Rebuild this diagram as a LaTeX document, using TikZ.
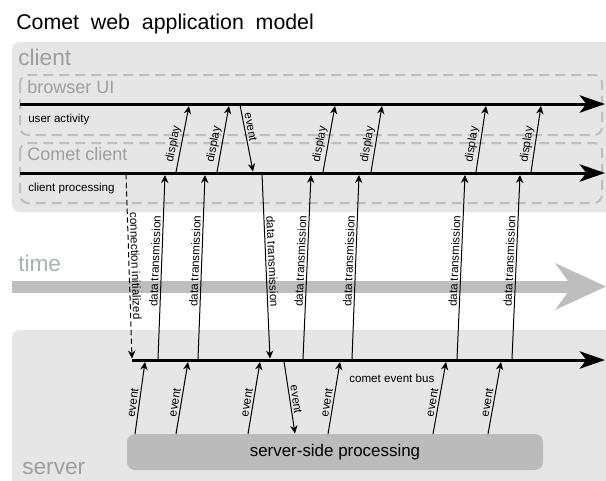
\documentclass[tikz,border=0pt]{standalone}
\usepackage{fontspec}
\setmainfont{Liberation Sans}
\newfontfamily\titlefont[WordSpace=2]{Liberation Sans}
\usetikzlibrary{arrows.meta}

\definecolor{panel}{HTML}{E6E6E6}
\definecolor{lane}{HTML}{BEBEBE}
\definecolor{procfill}{HTML}{BBBBBB}
\definecolor{laneText}{HTML}{9E9E9E}
\definecolor{timeText}{HTML}{AAB2B6}

\tikzset{
  panelbox/.style={fill=panel, draw=none, rounded corners=6pt},
  lanebox/.style={draw=lane, line width=1.5pt, dash pattern=on 7.5pt off 4.5pt, rounded corners=6pt},
  timeline/.style={line width=2.25pt, -{Stealth[length=19pt,width=13pt,inset=5pt]}},
  msg/.style={line width=0.75pt, -{Stealth[length=6pt,width=5.5pt,inset=2pt]}},
  lbl/.style={font=\fontsize{8.7}{10}\selectfont, inner sep=1.5pt},
  lanetitle/.style={font=\fontsize{13.5}{15}\selectfont, text=laneText, anchor=base west, inner sep=0pt},
  bigtitle/.style={font=\fontsize{17}{19}\selectfont, anchor=base west, inner sep=0pt},
}

\begin{document}
\begin{tikzpicture}[x=0.75pt,y=-0.75pt]
\useasboundingbox (0,0) rectangle (606,480);
\fill[white] (0,0) rectangle (606,480);

% heading
\node[font=\titlefont\fontsize{16}{18}\selectfont, anchor=base west, inner sep=0pt] (title) at (16,29) {Comet web application model};

% ---------------- client side ----------------
\path[panelbox] (12,42) rectangle (616,212);
\node[bigtitle, text=laneText] (clientlbl) at (18,65) {client};
\draw[lanebox] (20,75) rectangle (602,135);
\draw[lanebox] (20,143) rectangle (602,203);
\node[lanetitle] (uilbl) at (27,93) {browser UI};
\node[lanetitle] (cclbl) at (27,160) {Comet client};
\node[lbl, anchor=west, inner sep=0pt] (ualbl) at (28,119) {user activity};
\node[lbl, anchor=west, inner sep=0pt] (cplbl) at (28,188) {client processing};

\coordinate (ui0) at (20,104);
\coordinate (ui1) at (605,104);
\draw[timeline] (ui0) -- (ui1);
\coordinate (cc0) at (20,173);
\coordinate (cc1) at (605,173);
\draw[timeline] (cc0) -- (cc1);

% ---------------- time axis ----------------
\draw[lane, line width=9pt] (12,286.5) -- (573,286.5);
\fill[lane] (555,263) -- (606,286.5) -- (555,310) -- (572,286.5) -- cycle;
\node[bigtitle, text=timeText] (timelbl) at (18,271) {time};

% ---------------- server side ----------------
\path[panelbox] (12,330) rectangle (616,492);
\node[bigtitle, text=laneText] (serverlbl) at (22,474) {server};
\node[fill=procfill, rounded corners=6pt, minimum width=312pt, minimum height=27pt,
      inner sep=0pt, font=\fontsize{12.7}{14}\selectfont] (proc) at (335,452) {server-side processing};

\coordinate (bus0) at (132,360);
\coordinate (bus1) at (605,360);
\draw[timeline] (bus0) -- (bus1);
\node[lbl, anchor=west, inner sep=0pt] (buslbl) at (349,378) {comet event bus};

% display updates: Comet client -> browser UI
\foreach \i/\a/\b in {1/176/189, 2/217/229, 3/323/335, 4/371/382, 5/476/486, 6/531/541}{
  \coordinate (ds\i) at (\a,172);
  \coordinate (de\i) at (\b,106);
  \draw[msg] (ds\i) -- node[lbl, sloped, above, pos=0.4] {display} (de\i);
}

% user event: browser UI -> Comet client
\coordinate (ues) at (240,105);
\coordinate (uee) at (253,171.5);
\draw[msg] (ues) -- node[lbl, sloped, above, pos=0.35] {event} (uee);

% data pushed from the event bus to the Comet client
\foreach \i/\a/\b in {1/158/165, 2/198/205, 3/303/311, 4/352/359, 5/457/465, 6/512/520}{
  \coordinate (ts\i) at (\a,359);
  \coordinate (te\i) at (\b,175);
  \draw[msg] (ts\i) -- node[lbl, sloped, above, pos=0.53] {data transmission} (te\i);
}

% data sent from the Comet client to the event bus
\coordinate (tds) at (262,174);
\coordinate (tde) at (270,358.5);
\draw[msg] (tds) -- node[lbl, sloped, above, pos=0.475] {data transmission} (tde);

% opening the connection
\coordinate (cis) at (126,174);
\coordinate (cie) at (132,358.5);
\draw[msg, dash pattern=on 4pt off 2.5pt] (cis) -- node[lbl, sloped, above, pos=0.5] {connection initialized} (cie);

% server events: processing -> event bus
\foreach \i/\a/\b in {1/135/145, 2/176/188, 3/248/260, 4/328/340, 5/433/446, 6/488/501}{
  \coordinate (es\i) at (\a,434);
  \coordinate (ee\i) at (\b,362);
  \draw[msg] (es\i) -- node[lbl, sloped, above, pos=0.42] {event} (ee\i);
}

% event delivered from the bus to processing
\coordinate (eds) at (284,361.5);
\coordinate (ede) at (295,433.5);
\draw[msg] (eds) -- node[lbl, sloped, above, pos=0.54] {event} (ede);
\end{tikzpicture}
\end{document}
